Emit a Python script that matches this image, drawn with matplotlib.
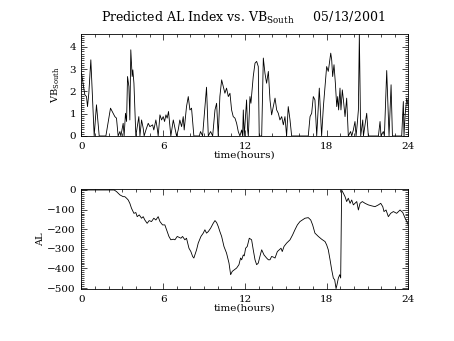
import matplotlib
matplotlib.use("Agg")
import matplotlib.pyplot as plt
from matplotlib.ticker import MultipleLocator

plt.rcParams['font.family'] = ['DejaVu Serif']
plt.rcParams['mathtext.fontset'] = 'dejavuserif'

# Southward IMF component (hours, value)
vb_time = [0.00, 0.245, 0.367, 0.441, 0.539, 0.686, 0.931, 1.10, 1.30, 1.79,
           2.13, 2.45, 2.57, 2.69, 2.82, 2.89, 3.06, 3.13, 3.23, 3.31,
           3.38, 3.48, 3.55, 3.62, 3.72, 3.77, 3.85, 3.99, 4.21, 4.29,
           4.41, 4.53, 4.60, 4.73, 4.90, 5.02, 5.22, 5.31, 5.46, 5.56,
           5.63, 5.76, 5.88, 6.00, 6.10, 6.20, 6.29, 6.39, 6.49, 6.56,
           6.74, 6.86, 6.98, 7.10, 7.22, 7.35, 7.47, 7.54, 7.71, 7.84,
           7.96, 8.08, 8.25, 8.65, 8.74, 8.89, 9.05, 9.18, 9.31, 9.48,
           9.63, 9.80, 9.92, 10.04, 10.16, 10.29, 10.41, 10.53, 10.65, 10.78,
           10.90, 11.02, 11.14, 11.27, 11.39, 11.51, 11.63, 11.76, 11.83, 11.88,
           11.95, 12.12, 12.20, 12.25, 12.37, 12.44, 12.61, 12.74, 12.86, 12.98,
           13.05, 13.23, 13.35, 13.47, 13.59, 13.72, 13.84, 13.96, 14.08, 14.21,
           14.33, 14.45, 14.57, 14.70, 14.82, 14.94, 15.06, 15.18, 15.31, 15.43,
           16.65, 16.78, 16.90, 17.02, 17.14, 17.27, 17.39, 17.46, 17.63, 17.76,
           17.88, 18.00, 18.12, 18.30, 18.37, 18.44, 18.54, 18.64, 18.74, 18.81,
           18.88, 18.98, 19.05, 19.15, 19.23, 19.35, 19.47, 19.59, 19.76, 19.84,
           19.96, 20.08, 20.16, 20.25, 20.33, 20.40, 20.50, 20.65, 20.70, 20.94,
           21.06, 21.80, 21.92, 21.99, 22.16, 22.24, 22.41, 22.51, 22.58, 22.73,
           22.83, 23.51, 23.63, 23.68, 23.76, 23.88, 24.00]
vb_south = [2.82, 1.85, 1.77, 1.32, 1.92, 3.42, 0.0, 1.40, 0.0, 0.0,
            1.25, 0.87, 0.80, 0.0, 0.20, 0.0, 0.57, 0.0, 1.02, 0.65,
            2.67, 2.22, 0.72, 3.87, 2.67, 2.97, 2.37, 0.0, 0.87, 0.0,
            0.72, 0.35, 0.0, 0.27, 0.57, 0.42, 0.50, 0.27, 0.72, 0.35,
            0.0, 0.95, 0.72, 0.87, 0.65, 0.95, 0.80, 1.10, 0.45, 0.0,
            0.72, 0.35, 0.0, 0.27, 0.72, 0.42, 0.87, 0.27, 1.32, 1.77,
            1.17, 1.25, 0.0, 0.0, 0.20, 0.0, 1.20, 2.19, 0.0, 0.20,
            0.0, 1.17, 1.47, 0.0, 1.77, 2.52, 2.22, 1.92, 2.15, 1.77,
            1.92, 1.17, 0.87, 0.80, 0.57, 0.20, 0.0, 0.27, 0.0, 1.17,
            0.0, 1.62, 0.27, 0.0, 1.77, 1.47, 2.67, 3.27, 3.35, 3.12,
            0.0, 0.0, 3.50, 2.82, 2.37, 2.90, 1.62, 0.95, 1.32, 1.70,
            1.17, 1.02, 0.72, 0.87, 0.50, 0.87, 0.0, 1.32, 0.72, 0.0,
            0.0, 0.87, 1.02, 1.77, 1.62, 0.0, 1.32, 2.15, 0.0, 1.32,
            2.22, 3.12, 2.90, 3.72, 3.42, 2.67, 3.20, 2.37, 1.32, 1.77,
            1.17, 2.15, 1.17, 2.07, 1.62, 0.87, 1.70, 0.0, 0.20, 0.0,
            0.27, 0.65, 0.0, 0.57, 1.17, 4.58, 0.0, 0.72, 0.0, 1.02,
            0.0, 0.0, 0.65, 0.0, 0.20, 0.0, 2.94, 1.17, 0.0, 2.30,
            0.0, 0.0, 1.55, 0.0, 0.95, 1.70, 1.32]

# Predicted AL index (hours, nT)
al_time = [0.0, 2.40, 2.57, 2.82, 3.06, 3.18, 3.31, 3.43, 3.55, 3.67,
           3.85, 3.99, 4.09, 4.24, 4.41, 4.53, 4.65, 4.82, 4.97, 5.14,
           5.31, 5.46, 5.63, 5.76, 5.95, 6.12, 6.25, 6.42, 6.56, 6.74,
           6.86, 7.03, 7.18, 7.30, 7.42, 7.59, 7.71, 7.89, 8.03, 8.16,
           8.25, 8.45, 8.57, 8.77, 8.94, 9.06, 9.18, 9.31, 9.48, 9.67,
           9.80, 9.92, 10.04, 10.16, 10.29, 10.46, 10.65, 10.83, 10.95, 11.07,
           11.22, 11.39, 11.56, 11.68, 11.76, 11.88, 11.95, 12.05, 12.17, 12.32,
           12.49, 12.61, 12.74, 12.86, 12.98, 13.10, 13.23, 13.40, 13.59, 13.72,
           13.84, 13.96, 14.08, 14.21, 14.38, 14.52, 14.65, 14.74, 14.87, 15.06,
           15.31, 15.50, 15.67, 15.85, 16.04, 16.21, 16.41, 16.65, 16.83, 16.97,
           17.14, 17.39, 17.63, 17.88, 18.00, 18.12, 18.25, 18.37, 18.49, 18.59,
           18.69, 18.76, 18.86, 18.96, 19.03, 19.10, 19.23, 19.35, 19.47, 19.59,
           19.72, 19.84, 19.96, 20.08, 20.21, 20.33, 20.45, 20.62, 20.82, 21.06,
           21.31, 21.55, 21.80, 21.97, 22.12, 22.21, 22.36, 22.53, 22.70, 22.90,
           23.14, 23.39, 23.59, 23.76, 24.00]
al_index = [0, 0, -8, -25, -34, -34, -42, -51, -68, -93,
            -119, -115, -136, -127, -144, -136, -153, -170, -156, -161,
            -144, -153, -136, -161, -178, -178, -203, -237, -254, -251,
            -254, -237, -242, -246, -237, -254, -246, -297, -314, -339,
            -347, -305, -271, -237, -220, -203, -220, -212, -195, -170,
            -156, -166, -186, -212, -237, -288, -322, -373, -432, -415,
            -407, -398, -381, -347, -356, -331, -336, -297, -288, -246,
            -254, -305, -356, -381, -373, -339, -305, -331, -347, -356,
            -356, -339, -342, -347, -314, -305, -297, -314, -288, -271,
            -254, -229, -203, -178, -161, -153, -144, -141, -153, -178,
            -220, -237, -251, -263, -280, -305, -356, -407, -449, -458,
            -503, -483, -449, -432, -449, 0, -17, -34, -59, -42,
            -68, -51, -76, -68, -59, -102, -68, -59, -68, -76,
            -81, -85, -76, -68, -85, -110, -102, -136, -119, -110,
            -119, -102, -115, -144, -178]

x_ticks = [0, 6, 12, 18, 24]

fig = plt.figure(figsize=(4.54, 3.41), dpi=100)
ax1 = fig.add_axes([0.1795, 0.6012, 0.720, 0.2991])
ax2 = fig.add_axes([0.1795, 0.1525, 0.720, 0.2932])

lw = 0.6
ax1.plot(vb_time, vb_south, color='black', lw=lw)
ax2.plot(al_time, al_index, color='black', lw=lw)

ax1.set_xlim(0, 24)
ax1.set_ylim(0, max(vb_south))
ax2.set_xlim(0, 24)
ax2.set_ylim(-505, 5)

for ax in (ax1, ax2):
    ax.set_xticks(x_ticks)
    ax.xaxis.set_minor_locator(MultipleLocator(1))
    ax.tick_params(which='both', direction='in', top=True, right=True,
                   labelsize=7.5, width=0.5, pad=4)
    ax.tick_params(which='major', length=4)
    ax.tick_params(which='minor', length=2)
    for s in ax.spines.values():
        s.set_linewidth(0.6)
    ax.set_xlabel('time(hours)', fontsize=7.5, labelpad=0)

ax1.yaxis.set_major_locator(MultipleLocator(1))
ax1.yaxis.set_minor_locator(MultipleLocator(0.1))
ax2.yaxis.set_major_locator(MultipleLocator(100))
ax2.yaxis.set_minor_locator(MultipleLocator(10))

ax1.set_ylabel(r'VB$_{\rm South}$', fontsize=7)
ax1.yaxis.set_label_coords(-0.06, 0.5)
ax2.set_ylabel('AL', fontsize=7)
ax2.yaxis.set_label_coords(-0.11, 0.5)

fig.text(0.535, 0.948, r'Predicted AL Index vs. VB$_{\rm South}$     05/13/2001',
         ha='center', va='center', fontsize=9)

fig.savefig('out.png', dpi=100)
